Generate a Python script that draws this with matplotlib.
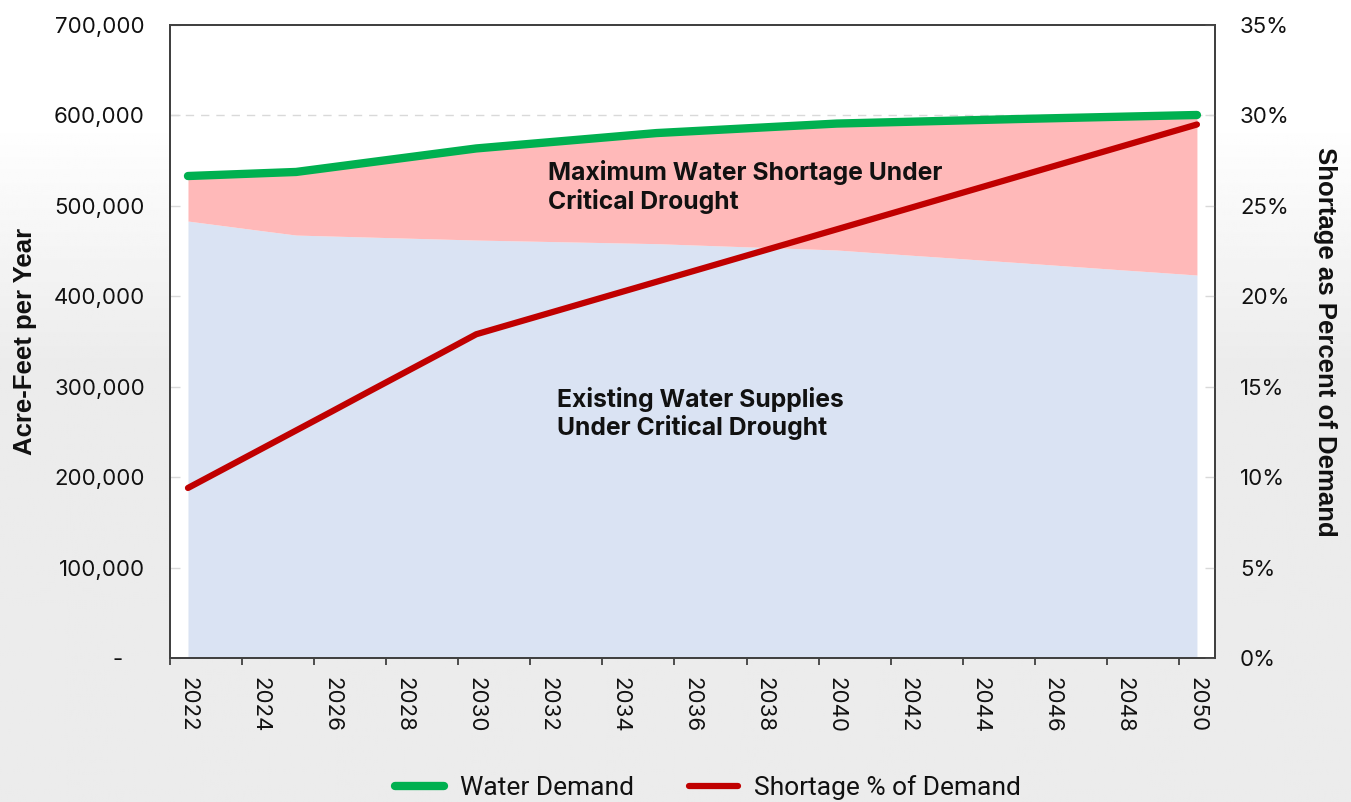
import numpy as np
import matplotlib
matplotlib.use("Agg")
import matplotlib.pyplot as plt
from matplotlib.ticker import FixedLocator, FuncFormatter
from matplotlib.transforms import ScaledTranslation
from matplotlib.lines import Line2D

# ---- data -------------------------------------------------------------
years = list(range(2022, 2051))

water_demand = [533000, 534500, 536000, 537500, 542700, 547900, 553100, 558300,
                563500, 566900, 570300, 573700, 577100, 580500, 582600, 584700,
                586800, 588900, 591000, 592000, 593000, 594000, 595000, 596000,
                596900, 597800, 598700, 599600, 600500]

existing_supply = [483200, 478000, 472800, 467700, 466600, 465500, 464400, 463300,
                   462200, 461400, 460600, 459800, 459000, 458200, 456800, 455400,
                   454000, 452600, 451200, 448400, 445600, 442900, 440100, 437400,
                   434600, 431800, 429000, 426300, 423500]

shortage_pct = [9.40, 10.46, 11.52, 12.58, 13.64, 14.71, 15.77, 16.83, 17.90,
                18.48, 19.06, 19.64, 20.22, 20.80, 21.38, 21.96, 22.54, 23.12,
                23.70, 24.28, 24.86, 25.44, 26.02, 26.60, 27.18, 27.76, 28.34,
                28.92, 29.50]

left_ticks = [0, 100000, 200000, 300000, 400000, 500000, 600000, 700000]
right_ticks = [0, 5, 10, 15, 20, 25, 30, 35]
year_labels = list(range(2022, 2051, 2))

# ---- styling ----------------------------------------------------------
GREEN = "#00B050"
RED = "#C00000"
PINK = "#FFB9B9"
BLUE = "#DAE3F3"
SPINE = "#404040"
STUB = "#D9D9D9"
TXT = "#111111"

TICK_FONT = "Inter"
TITLE_FONT = "Liberation Sans"

fig = plt.figure(figsize=(13.51, 8.02), dpi=100)

# soft grey backdrop, white at the top fading to light grey below
bg = fig.add_axes([0, 0, 1, 1], zorder=-10)
rows = np.linspace(0, 1, 400)
shade = np.clip((rows - 0.15) / 0.30, 0, 1)
col = 1.0 - 0.075 * shade
grad = np.repeat(col[:, None], 10, axis=1)
bg.imshow(grad, cmap="gray", vmin=0, vmax=1, aspect="auto", extent=[0, 1, 0, 1])
bg.set_axis_off()

ax = fig.add_axes([0.1258, 0.1796, 0.7735, 0.7892])
ax.set_facecolor("white")

x = np.array(years, dtype=float)
ax.fill_between(x, 0, existing_supply, color=BLUE, linewidth=0, zorder=2)
ax.fill_between(x, existing_supply, water_demand, color=PINK, linewidth=0, zorder=2)
ax.axhline(600000, color="#D9D9D9", lw=1.0, ls=(0, (6, 5)), zorder=1)
ax.plot(x, water_demand, color=GREEN, lw=6, solid_capstyle="round",
        solid_joinstyle="round", zorder=4)

ax.set_xlim(2021.5, 2050.5)
ax.set_ylim(0, 700000)

# ticks at category boundaries, labels at category centres
ax.xaxis.set_major_locator(FixedLocator([y - 0.5 for y in year_labels]))
ax.xaxis.set_major_formatter(FuncFormatter(lambda v, p: ""))
ax.xaxis.set_minor_locator(FixedLocator(year_labels))
ax.xaxis.set_minor_formatter(FuncFormatter(lambda v, p: f"{int(round(v))}"))
ax.tick_params(axis="x", which="major", direction="out", length=5, width=1.3,
               color=SPINE)
ax.tick_params(axis="x", which="minor", length=0, pad=14, labelsize=16,
               labelrotation=-90)
for lab in ax.get_xticklabels(minor=True):
    lab.set_fontfamily(TICK_FONT)
    lab.set_color(TXT)
    lab.set_va("top")

ax.yaxis.set_major_locator(FixedLocator(left_ticks))
ax.yaxis.set_major_formatter(FuncFormatter(lambda v, p: "-" if v == 0 else f"{int(v):,}"))
ax.tick_params(axis="y", direction="in", length=7, width=1.0, color=STUB,
               pad=18, labelsize=16, labelcolor=TXT)
for lab in ax.get_yticklabels():
    lab.set_fontfamily(TICK_FONT)
zero_lab = ax.get_yticklabels()[0]
zero_lab.set_transform(zero_lab.get_transform() +
                       ScaledTranslation(-0.22, 0, fig.dpi_scale_trans))

for s in ax.spines.values():
    s.set_color(SPINE)
    s.set_linewidth(1.3)

ax.set_ylabel("Acre-Feet per Year", fontfamily=TITLE_FONT, fontweight="bold",
              fontsize=18.5, color=TXT, labelpad=12)

ax.text(2032.0, 521000, "Maximum Water Shortage Under\nCritical Drought",
        fontfamily=TICK_FONT, fontweight="bold", fontsize=17.8, color=TXT,
        ha="left", va="center", linespacing=1.17, zorder=5)
ax.text(2032.25, 270500, "Existing Water Supplies\nUnder Critical Drought",
        fontfamily=TICK_FONT, fontweight="bold", fontsize=17.8, color=TXT,
        ha="left", va="center", linespacing=1.17, zorder=5)

# secondary axis: shortage as a percentage of demand
ax2 = ax.twinx()
ax2.plot(x, shortage_pct, color=RED, lw=4.5, solid_capstyle="round",
         solid_joinstyle="round", zorder=5)
ax2.set_ylim(0, 35)
ax2.yaxis.set_major_locator(FixedLocator(right_ticks))
ax2.yaxis.set_major_formatter(FuncFormatter(lambda v, p: f"{int(v)}%"))
ax2.tick_params(axis="y", direction="in", length=7, width=1.0, color=STUB,
                pad=18, labelsize=16, labelcolor=TXT)
for lab in ax2.get_yticklabels():
    lab.set_fontfamily(TICK_FONT)
for s in ax2.spines.values():
    s.set_color(SPINE)
    s.set_linewidth(1.3)
ax2.set_ylabel("Shortage as Percent of Demand", fontfamily=TITLE_FONT,
               fontweight="bold", fontsize=18.5, color=TXT, rotation=-90,
               labelpad=34)

handles = [Line2D([0], [0], color=GREEN, lw=6, solid_capstyle="round"),
           Line2D([0], [0], color=RED, lw=4.5, solid_capstyle="round")]
leg = fig.legend(handles, ["Water Demand", "Shortage % of Demand"],
                 loc="center", bbox_to_anchor=(0.524, 0.018), ncol=2,
                 frameon=False, handlelength=1.85, handletextpad=0.6,
                 columnspacing=2.1, prop={"family": "Roboto", "size": 19})
for t in leg.get_texts():
    t.set_color(TXT)

fig.savefig("out.png", dpi=100)
